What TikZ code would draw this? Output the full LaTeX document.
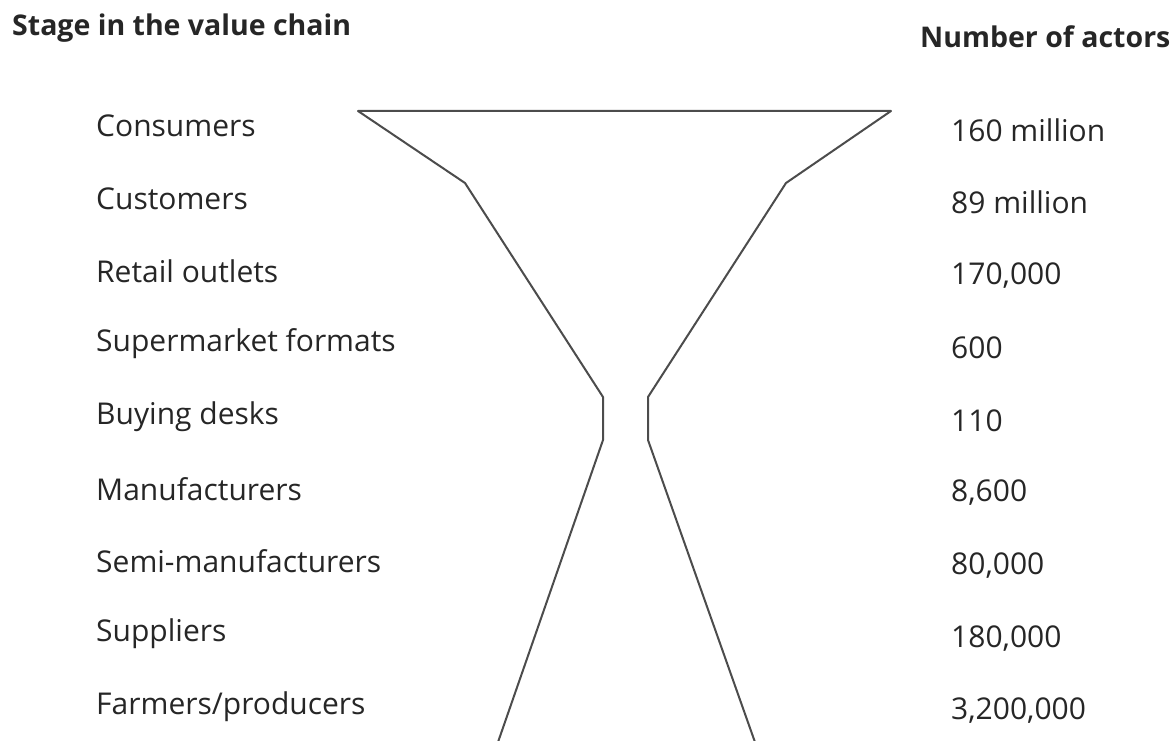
\documentclass[tikz,border=0pt]{standalone}
\usepackage{fontspec}
\setmainfont{Open Sans}
\begin{document}
\begin{tikzpicture}[x=1pt,y=-1pt,
  lbl/.style={anchor=west,inner sep=0pt,font=\fontsize{30}{34}\selectfont,text=black!85},
  hdr/.style={anchor=west,inner sep=0pt,font=\fontsize{28.5}{32}\selectfont\bfseries,text=black!85},
  glass/.style={draw=black!70,line width=2pt,line join=round}]
\useasboundingbox (0,0) rectangle (1173,741);
\node[hdr] (h1) at (12,28) {Stage in the value chain};
\node[hdr] (h2) at (920,37) {Number of actors};
\foreach \t [count=\i] in {Consumers,Customers,Retail outlets,Supermarket formats,Buying desks,Manufacturers,Semi-manufacturers,Suppliers,Farmers/producers}{
  \node[lbl] (s\i) at (96,{126+72.6*(\i-1)}) {\t};
}
\foreach \t [count=\i] in {160 million,89 million,{170,000},600,110,{8,600},{80,000},{180,000},{3,200,000}}{
  \node[lbl] (n\i) at (951,{130+72.6*(\i-1)}) {\t};
}
\coordinate (tl) at (358,111);
\coordinate (tr) at (891,111);
\draw[glass] (497,745) -- (603,440) -- (603,397) -- (465,183) -- (tl) -- (tr) -- (786,183) -- (648,397) -- (648,440) -- (756,745);
\end{tikzpicture}
\end{document}
